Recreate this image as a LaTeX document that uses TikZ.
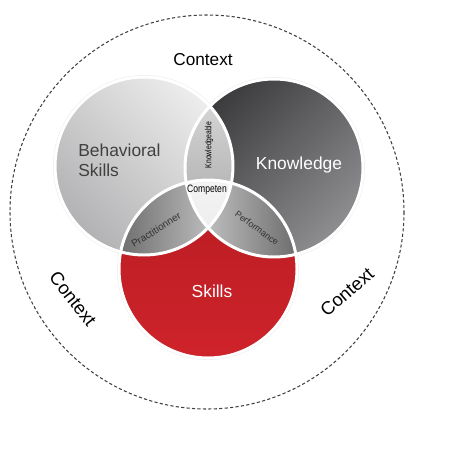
\documentclass[tikz,border=0pt]{standalone}
\usepackage{fontspec}
\setmainfont{Liberation Sans}

\definecolor{behavLight}{HTML}{EDEDED}
\definecolor{behavDark}{HTML}{B2B2B4}
\definecolor{knowDark}{HTML}{3B3B3D}
\definecolor{knowLight}{HTML}{8E8E90}
\definecolor{skillsTop}{HTML}{B71C22}
\definecolor{skillsBot}{HTML}{CF232B}
\definecolor{lensLight}{HTML}{D6D6D6}
\definecolor{lensDark}{HTML}{6A6A6A}
\definecolor{coreLight}{HTML}{F3F3F3}
\definecolor{coreDark}{HTML}{E0E0E0}

\begin{document}
\begin{tikzpicture}[
    x=0.02cm, y=-0.02cm,
    every node/.style={inner sep=0pt},
    big label/.style={font=\fontsize{9.9}{11.5}\selectfont},
    small label/.style={font=\fontsize{5.4}{6}\selectfont, text=black!80},
    context label/.style={font=\fontsize{10.5}{12}\selectfont, text=black},
    rim/.style={draw=white, line width=1.7pt},
    shadow/.style={fill=black, opacity=0.08}
]

   \def\rad{89}
   \useasboundingbox (0,0) rectangle (461,463);

   % Centres of the circles
   \coordinate (cb) at (144,166);
   \coordinate (ck) at (274,168);
   \coordinate (cs) at (208,269);
   \coordinate (co) at (207,212);

   % Outer context ring
   \draw[draw=black!75, line width=0.6pt, dash pattern=on 1.8pt off 1.3pt] (co) circle (197);

   % Soft shadows
   \foreach \c in {cb,ck,cs} {
      \fill[shadow, shift={(2,3)}] (\c) circle (\rad+2);
      \fill[shadow, shift={(1,2)}] (\c) circle (\rad+1);
   }

   % Main discs
   \shade[top color=skillsTop, bottom color=skillsBot] (cs) circle (\rad);
   \shade[top color=behavLight, bottom color=behavDark, shading angle=-45] (cb) circle (\rad);
   \shade[top color=knowDark, bottom color=knowLight, shading angle=45] (ck) circle (\rad);

   % Overlaps
   \begin{scope}
      \clip (cb) circle (\rad);
      \clip (ck) circle (\rad);
      \shade[top color=lensLight, bottom color=gray!70] (180,100) rectangle (240,235);
   \end{scope}
   \begin{scope}
      \clip (cb) circle (\rad);
      \clip (cs) circle (\rad);
      \shade[left color=lensDark, right color=lensLight] (115,175) rectangle (240,260);
   \end{scope}
   \begin{scope}
      \clip (ck) circle (\rad);
      \clip (cs) circle (\rad);
      \shade[left color=lensLight, right color=lensDark] (180,175) rectangle (300,260);
   \end{scope}
   \begin{scope}
      \clip (cb) circle (\rad);
      \clip (ck) circle (\rad);
      \shade[top color=coreLight, bottom color=coreDark] (cs) circle (\rad);
   \end{scope}

   % White rims
   \foreach \c in {cs,cb,ck} {
      \draw[rim] (\c) circle (\rad);
   }

   % Labels
   \node[big label, text=black!75, align=left, anchor=west] (behav) at (78,160) {Behavioral\\Skills};
   \node[big label, text=white] (know) at (299,165) {Knowledge};
   \node[big label, text=white] (skills) at (212,291) {Skills};

   \node[small label, font=\fontsize{5}{6}\selectfont, text=black, rotate=90, xscale=0.77] (kable) at (209,145) {Knowledgeable};
   \node[small label, font=\fontsize{6.1}{7}\selectfont, text=black, xscale=0.8] (comp) at (207,190) {Competen};
   \node[small label, font=\fontsize{5.7}{6}\selectfont, rotate=32] (pract) at (156,230) {Practitionner};
   \node[small label, font=\fontsize{5.1}{6}\selectfont, rotate=-36] (perf) at (257,228) {Performance};

   \node[context label, font=\fontsize{9.8}{12}\selectfont] (ctop) at (203,60) {Context};
   \node[context label, rotate=-52] (cleft) at (73,299) {Context};
   \node[context label, rotate=41] (cright) at (347,292) {Context};

\end{tikzpicture}
\end{document}
